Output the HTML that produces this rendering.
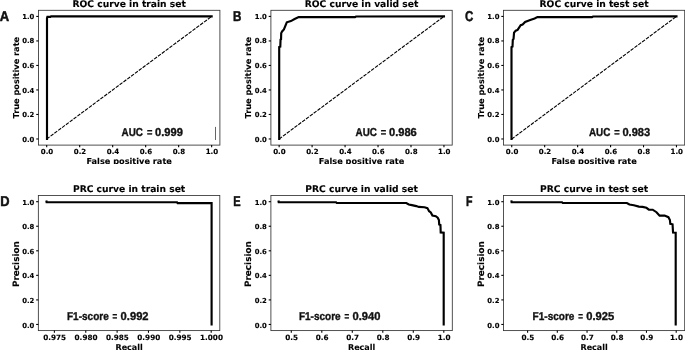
<!DOCTYPE html>
<html lang="en"><head><meta charset="utf-8"><title>ROC and PRC curves</title>
<style>html,body{margin:0;padding:0;background:#fff}body{width:685px;height:350px;overflow:hidden}svg{display:block;text-rendering:geometricPrecision}.t{font-family:'DejaVu Sans','Liberation Sans',sans-serif;font-weight:bold;fill:#000}.k{font-size:7.25px;stroke:#000;stroke-width:0.12}.l{font-size:8.2px;stroke:#000;stroke-width:0.1}.h{font-size:9.17px;stroke:#000;stroke-width:0.1}.c{font-family:'Liberation Sans','DejaVu Sans',sans-serif;font-weight:bold;fill:#111;stroke:#111;stroke-width:0.35}.sp{fill:none;stroke:#333;stroke-width:0.85}.tk{stroke:#000;stroke-width:1.1}.cv{fill:none;stroke:#000;stroke-width:2.15;stroke-linejoin:miter;stroke-linecap:square}.dg{stroke:#000;stroke-width:1.1;stroke-dasharray:3.6 1.18;fill:none}</style></head><body>
<svg width="685" height="350" viewBox="0 0 685 350">
<rect width="685" height="350" fill="#fff"/>
<g>
<rect class="sp" x="38.45" y="10.30" width="181.45" height="134.80"/>
<line class="tk" x1="46.70" y1="145.10" x2="46.70" y2="147.30"/>
<text class="t k" style="font-size:7.05px" text-anchor="middle" x="47.00" y="154.40">0.0</text>
<line class="tk" x1="79.69" y1="145.10" x2="79.69" y2="147.30"/>
<text class="t k" style="font-size:7.05px" text-anchor="middle" x="79.99" y="154.40">0.2</text>
<line class="tk" x1="112.68" y1="145.10" x2="112.68" y2="147.30"/>
<text class="t k" style="font-size:7.05px" text-anchor="middle" x="112.98" y="154.40">0.4</text>
<line class="tk" x1="145.67" y1="145.10" x2="145.67" y2="147.30"/>
<text class="t k" style="font-size:7.05px" text-anchor="middle" x="145.97" y="154.40">0.6</text>
<line class="tk" x1="178.66" y1="145.10" x2="178.66" y2="147.30"/>
<text class="t k" style="font-size:7.05px" text-anchor="middle" x="178.96" y="154.40">0.8</text>
<line class="tk" x1="211.65" y1="145.10" x2="211.65" y2="147.30"/>
<text class="t k" style="font-size:7.05px" text-anchor="middle" x="211.95" y="154.40">1.0</text>
<line class="tk" x1="36.25" y1="138.97" x2="38.45" y2="138.97"/>
<text class="t k" style="font-size:6.85px" text-anchor="end" x="34.35" y="141.52">0.0</text>
<line class="tk" x1="36.25" y1="114.46" x2="38.45" y2="114.46"/>
<text class="t k" style="font-size:6.85px" text-anchor="end" x="34.35" y="117.01">0.2</text>
<line class="tk" x1="36.25" y1="89.95" x2="38.45" y2="89.95"/>
<text class="t k" style="font-size:6.85px" text-anchor="end" x="34.35" y="92.50">0.4</text>
<line class="tk" x1="36.25" y1="65.45" x2="38.45" y2="65.45"/>
<text class="t k" style="font-size:6.85px" text-anchor="end" x="34.35" y="68.00">0.6</text>
<line class="tk" x1="36.25" y1="40.94" x2="38.45" y2="40.94"/>
<text class="t k" style="font-size:6.85px" text-anchor="end" x="34.35" y="43.49">0.8</text>
<line class="tk" x1="36.25" y1="16.43" x2="38.45" y2="16.43"/>
<text class="t k" style="font-size:6.85px" text-anchor="end" x="34.35" y="18.98">1.0</text>
<path class="dg" d="M46.70 138.97 L211.65 16.43"/>
<path class="cv" d="M47.00 138.97 L47.00 18.27 L47.40 16.86 L50.40 16.86 L51.00 16.43 L211.65 16.43"/>
<text class="t h" text-anchor="middle" x="129.18" y="6.85">ROC curve in train set</text>
<text class="t l" style="font-size:8.20px" text-anchor="middle" x="129.18" y="164.30">False positive rate</text>
<text class="t l" style="font-size:8.20px" text-anchor="middle" transform="translate(18.60 77.70) rotate(-90)">True positive rate</text>
<text class="c" font-size="11.4" y="135.70"><tspan x="121.60" textLength="21.40" lengthAdjust="spacingAndGlyphs">AUC</tspan> <tspan x="146.90" textLength="5.40" lengthAdjust="spacingAndGlyphs">=</tspan> <tspan x="155.10" textLength="27.80" lengthAdjust="spacingAndGlyphs">0.999</tspan></text>
<text class="c" style="stroke-width:0.5" font-size="14.3" x="-0.30" y="20.70" textLength="9.40" lengthAdjust="spacingAndGlyphs">A</text>
</g>
<line x1="215.5" y1="126.9" x2="215.5" y2="140" stroke="#222" stroke-width="0.7"/>
<g>
<rect class="sp" x="270.90" y="10.30" width="181.30" height="134.80"/>
<line class="tk" x1="279.14" y1="145.10" x2="279.14" y2="147.30"/>
<text class="t k" style="font-size:7.05px" text-anchor="middle" x="279.44" y="154.40">0.0</text>
<line class="tk" x1="312.10" y1="145.10" x2="312.10" y2="147.30"/>
<text class="t k" style="font-size:7.05px" text-anchor="middle" x="312.40" y="154.40">0.2</text>
<line class="tk" x1="345.07" y1="145.10" x2="345.07" y2="147.30"/>
<text class="t k" style="font-size:7.05px" text-anchor="middle" x="345.37" y="154.40">0.4</text>
<line class="tk" x1="378.03" y1="145.10" x2="378.03" y2="147.30"/>
<text class="t k" style="font-size:7.05px" text-anchor="middle" x="378.33" y="154.40">0.6</text>
<line class="tk" x1="411.00" y1="145.10" x2="411.00" y2="147.30"/>
<text class="t k" style="font-size:7.05px" text-anchor="middle" x="411.30" y="154.40">0.8</text>
<line class="tk" x1="443.96" y1="145.10" x2="443.96" y2="147.30"/>
<text class="t k" style="font-size:7.05px" text-anchor="middle" x="444.26" y="154.40">1.0</text>
<line class="tk" x1="268.70" y1="138.97" x2="270.90" y2="138.97"/>
<text class="t k" style="font-size:6.85px" text-anchor="end" x="266.80" y="141.52">0.0</text>
<line class="tk" x1="268.70" y1="114.46" x2="270.90" y2="114.46"/>
<text class="t k" style="font-size:6.85px" text-anchor="end" x="266.80" y="117.01">0.2</text>
<line class="tk" x1="268.70" y1="89.95" x2="270.90" y2="89.95"/>
<text class="t k" style="font-size:6.85px" text-anchor="end" x="266.80" y="92.50">0.4</text>
<line class="tk" x1="268.70" y1="65.45" x2="270.90" y2="65.45"/>
<text class="t k" style="font-size:6.85px" text-anchor="end" x="266.80" y="68.00">0.6</text>
<line class="tk" x1="268.70" y1="40.94" x2="270.90" y2="40.94"/>
<text class="t k" style="font-size:6.85px" text-anchor="end" x="266.80" y="43.49">0.8</text>
<line class="tk" x1="268.70" y1="16.43" x2="270.90" y2="16.43"/>
<text class="t k" style="font-size:6.85px" text-anchor="end" x="266.80" y="18.98">1.0</text>
<path class="dg" d="M279.14 138.97 L443.96 16.43"/>
<path class="cv" d="M279.20 138.97 L279.20 47.10 L280.30 46.70 L280.55 39.60 L281.05 39.20 L281.20 33.30 L282.10 31.40 L283.90 29.50 L286.80 22.30 L290.90 21.10 L294.60 19.05 L298.70 17.10 L355.00 17.10 L356.00 16.55 L443.96 16.43"/>
<text class="t h" text-anchor="middle" x="361.55" y="6.85">ROC curve in valid set</text>
<text class="t l" style="font-size:8.20px" text-anchor="middle" x="361.55" y="164.30">False positive rate</text>
<text class="t l" style="font-size:8.20px" text-anchor="middle" transform="translate(251.10 77.70) rotate(-90)">True positive rate</text>
<text class="c" font-size="11.4" y="135.70"><tspan x="355.50" textLength="21.40" lengthAdjust="spacingAndGlyphs">AUC</tspan> <tspan x="380.80" textLength="5.40" lengthAdjust="spacingAndGlyphs">=</tspan> <tspan x="389.00" textLength="27.80" lengthAdjust="spacingAndGlyphs">0.986</tspan></text>
<text class="c" style="stroke-width:0.5" font-size="14.3" x="232.90" y="20.70" textLength="8.40" lengthAdjust="spacingAndGlyphs">B</text>
</g>
<g>
<rect class="sp" x="503.50" y="10.30" width="181.20" height="134.80"/>
<line class="tk" x1="511.74" y1="145.10" x2="511.74" y2="147.30"/>
<text class="t k" style="font-size:7.05px" text-anchor="middle" x="512.04" y="154.40">0.0</text>
<line class="tk" x1="544.68" y1="145.10" x2="544.68" y2="147.30"/>
<text class="t k" style="font-size:7.05px" text-anchor="middle" x="544.98" y="154.40">0.2</text>
<line class="tk" x1="577.63" y1="145.10" x2="577.63" y2="147.30"/>
<text class="t k" style="font-size:7.05px" text-anchor="middle" x="577.93" y="154.40">0.4</text>
<line class="tk" x1="610.57" y1="145.10" x2="610.57" y2="147.30"/>
<text class="t k" style="font-size:7.05px" text-anchor="middle" x="610.87" y="154.40">0.6</text>
<line class="tk" x1="643.52" y1="145.10" x2="643.52" y2="147.30"/>
<text class="t k" style="font-size:7.05px" text-anchor="middle" x="643.82" y="154.40">0.8</text>
<line class="tk" x1="676.46" y1="145.10" x2="676.46" y2="147.30"/>
<text class="t k" style="font-size:7.05px" text-anchor="middle" x="676.76" y="154.40">1.0</text>
<line class="tk" x1="501.30" y1="138.97" x2="503.50" y2="138.97"/>
<text class="t k" style="font-size:6.85px" text-anchor="end" x="499.40" y="141.52">0.0</text>
<line class="tk" x1="501.30" y1="114.46" x2="503.50" y2="114.46"/>
<text class="t k" style="font-size:6.85px" text-anchor="end" x="499.40" y="117.01">0.2</text>
<line class="tk" x1="501.30" y1="89.95" x2="503.50" y2="89.95"/>
<text class="t k" style="font-size:6.85px" text-anchor="end" x="499.40" y="92.50">0.4</text>
<line class="tk" x1="501.30" y1="65.45" x2="503.50" y2="65.45"/>
<text class="t k" style="font-size:6.85px" text-anchor="end" x="499.40" y="68.00">0.6</text>
<line class="tk" x1="501.30" y1="40.94" x2="503.50" y2="40.94"/>
<text class="t k" style="font-size:6.85px" text-anchor="end" x="499.40" y="43.49">0.8</text>
<line class="tk" x1="501.30" y1="16.43" x2="503.50" y2="16.43"/>
<text class="t k" style="font-size:6.85px" text-anchor="end" x="499.40" y="18.98">1.0</text>
<path class="dg" d="M511.74 138.97 L676.46 16.43"/>
<path class="cv" d="M511.50 138.97 L511.50 47.10 L512.50 46.50 L512.80 39.90 L513.55 38.90 L514.05 32.60 L515.70 30.75 L517.60 29.90 L520.70 25.10 L522.60 24.50 L525.10 21.95 L530.20 20.06 L534.60 18.55 L537.45 17.10 L592.00 17.10 L593.00 16.55 L676.46 16.43"/>
<text class="t h" text-anchor="middle" x="594.10" y="6.85">ROC curve in test set</text>
<text class="t l" style="font-size:8.20px" text-anchor="middle" x="594.10" y="164.30">False positive rate</text>
<text class="t l" style="font-size:8.20px" text-anchor="middle" transform="translate(483.70 77.70) rotate(-90)">True positive rate</text>
<text class="c" font-size="11.4" y="135.70"><tspan x="588.90" textLength="21.40" lengthAdjust="spacingAndGlyphs">AUC</tspan> <tspan x="614.20" textLength="5.40" lengthAdjust="spacingAndGlyphs">=</tspan> <tspan x="622.40" textLength="27.80" lengthAdjust="spacingAndGlyphs">0.983</tspan></text>
<text class="c" style="stroke-width:0.5" font-size="14.3" x="465.10" y="21.00" textLength="8.30" lengthAdjust="spacingAndGlyphs">C</text>
</g>
<g>
<rect class="sp" x="38.35" y="195.55" width="181.45" height="135.05"/>
<line class="tk" x1="54.40" y1="330.60" x2="54.40" y2="332.80"/>
<text class="t k" style="font-size:7.25px" text-anchor="middle" x="54.70" y="339.70">0.975</text>
<line class="tk" x1="85.76" y1="330.60" x2="85.76" y2="332.80"/>
<text class="t k" style="font-size:7.25px" text-anchor="middle" x="86.06" y="339.70">0.980</text>
<line class="tk" x1="117.12" y1="330.60" x2="117.12" y2="332.80"/>
<text class="t k" style="font-size:7.25px" text-anchor="middle" x="117.42" y="339.70">0.985</text>
<line class="tk" x1="148.48" y1="330.60" x2="148.48" y2="332.80"/>
<text class="t k" style="font-size:7.25px" text-anchor="middle" x="148.78" y="339.70">0.990</text>
<line class="tk" x1="179.84" y1="330.60" x2="179.84" y2="332.80"/>
<text class="t k" style="font-size:7.25px" text-anchor="middle" x="180.14" y="339.70">0.995</text>
<line class="tk" x1="211.20" y1="330.60" x2="211.20" y2="332.80"/>
<text class="t k" style="font-size:7.25px" text-anchor="middle" x="211.50" y="339.70">1.000</text>
<line class="tk" x1="36.15" y1="324.46" x2="38.35" y2="324.46"/>
<text class="t k" style="font-size:6.85px" text-anchor="end" x="34.25" y="327.51">0.0</text>
<line class="tk" x1="36.15" y1="299.91" x2="38.35" y2="299.91"/>
<text class="t k" style="font-size:6.85px" text-anchor="end" x="34.25" y="302.96">0.2</text>
<line class="tk" x1="36.15" y1="275.35" x2="38.35" y2="275.35"/>
<text class="t k" style="font-size:6.85px" text-anchor="end" x="34.25" y="278.40">0.4</text>
<line class="tk" x1="36.15" y1="250.80" x2="38.35" y2="250.80"/>
<text class="t k" style="font-size:6.85px" text-anchor="end" x="34.25" y="253.85">0.6</text>
<line class="tk" x1="36.15" y1="226.24" x2="38.35" y2="226.24"/>
<text class="t k" style="font-size:6.85px" text-anchor="end" x="34.25" y="229.29">0.8</text>
<line class="tk" x1="36.15" y1="201.69" x2="38.35" y2="201.69"/>
<text class="t k" style="font-size:6.85px" text-anchor="end" x="34.25" y="204.74">1.0</text>
<path class="cv" d="M46.50 201.60 L46.60 202.20 L177.00 202.20 L177.60 203.10 L211.60 203.10 L211.60 324.46"/>
<text class="t h" text-anchor="middle" x="129.08" y="192.40">PRC curve in train set</text>
<text class="t l" style="font-size:8.00px" text-anchor="middle" x="129.08" y="349.70">Recall</text>
<text class="t l" style="font-size:8.85px" text-anchor="middle" transform="translate(18.60 264.08) rotate(-90)">Precision</text>
<text class="c" font-size="11.4" y="319.60"><tspan x="67.00" textLength="41.80" lengthAdjust="spacingAndGlyphs">F1-score</tspan> <tspan x="112.60" textLength="4.70" lengthAdjust="spacingAndGlyphs">=</tspan> <tspan x="120.60" textLength="28.00" lengthAdjust="spacingAndGlyphs">0.992</tspan></text>
<text class="c" style="stroke-width:0.5" font-size="14.3" x="0.15" y="205.70" textLength="9.30" lengthAdjust="spacingAndGlyphs">D</text>
</g>
<g>
<rect class="sp" x="270.90" y="195.55" width="181.40" height="135.05"/>
<line class="tk" x1="291.30" y1="330.60" x2="291.30" y2="332.80"/>
<text class="t k" style="font-size:7.25px" text-anchor="middle" x="291.60" y="339.70">0.5</text>
<line class="tk" x1="321.80" y1="330.60" x2="321.80" y2="332.80"/>
<text class="t k" style="font-size:7.25px" text-anchor="middle" x="322.10" y="339.70">0.6</text>
<line class="tk" x1="352.30" y1="330.60" x2="352.30" y2="332.80"/>
<text class="t k" style="font-size:7.25px" text-anchor="middle" x="352.60" y="339.70">0.7</text>
<line class="tk" x1="382.80" y1="330.60" x2="382.80" y2="332.80"/>
<text class="t k" style="font-size:7.25px" text-anchor="middle" x="383.10" y="339.70">0.8</text>
<line class="tk" x1="413.30" y1="330.60" x2="413.30" y2="332.80"/>
<text class="t k" style="font-size:7.25px" text-anchor="middle" x="413.60" y="339.70">0.9</text>
<line class="tk" x1="443.80" y1="330.60" x2="443.80" y2="332.80"/>
<text class="t k" style="font-size:7.25px" text-anchor="middle" x="444.10" y="339.70">1.0</text>
<line class="tk" x1="268.70" y1="324.46" x2="270.90" y2="324.46"/>
<text class="t k" style="font-size:6.85px" text-anchor="end" x="266.80" y="327.51">0.0</text>
<line class="tk" x1="268.70" y1="299.91" x2="270.90" y2="299.91"/>
<text class="t k" style="font-size:6.85px" text-anchor="end" x="266.80" y="302.96">0.2</text>
<line class="tk" x1="268.70" y1="275.35" x2="270.90" y2="275.35"/>
<text class="t k" style="font-size:6.85px" text-anchor="end" x="266.80" y="278.40">0.4</text>
<line class="tk" x1="268.70" y1="250.80" x2="270.90" y2="250.80"/>
<text class="t k" style="font-size:6.85px" text-anchor="end" x="266.80" y="253.85">0.6</text>
<line class="tk" x1="268.70" y1="226.24" x2="270.90" y2="226.24"/>
<text class="t k" style="font-size:6.85px" text-anchor="end" x="266.80" y="229.29">0.8</text>
<line class="tk" x1="268.70" y1="201.69" x2="270.90" y2="201.69"/>
<text class="t k" style="font-size:6.85px" text-anchor="end" x="266.80" y="204.74">1.0</text>
<path class="cv" d="M278.60 201.60 L278.70 202.20 L336.00 202.20 L336.80 203.00 L406.30 203.00 L408.80 204.50 L411.90 205.10 L416.30 206.10 L418.80 206.90 L424.50 207.30 L427.40 208.10 L429.10 211.20 L430.80 212.40 L432.40 215.60 L435.80 216.20 L437.70 217.70 L438.90 220.00 L439.20 224.60 L440.45 225.10 L440.70 232.40 L443.70 232.70 L443.70 324.46"/>
<text class="t h" text-anchor="middle" x="361.60" y="192.40">PRC curve in valid set</text>
<text class="t l" style="font-size:8.00px" text-anchor="middle" x="361.60" y="349.70">Recall</text>
<text class="t l" style="font-size:8.85px" text-anchor="middle" transform="translate(251.10 264.08) rotate(-90)">Precision</text>
<text class="c" font-size="11.4" y="319.60"><tspan x="298.90" textLength="41.80" lengthAdjust="spacingAndGlyphs">F1-score</tspan> <tspan x="344.50" textLength="4.70" lengthAdjust="spacingAndGlyphs">=</tspan> <tspan x="352.50" textLength="28.00" lengthAdjust="spacingAndGlyphs">0.940</tspan></text>
<text class="c" style="stroke-width:0.5" font-size="14.3" x="233.20" y="205.70" textLength="7.40" lengthAdjust="spacingAndGlyphs">E</text>
</g>
<g>
<rect class="sp" x="503.50" y="195.55" width="181.20" height="135.05"/>
<line class="tk" x1="527.60" y1="330.60" x2="527.60" y2="332.80"/>
<text class="t k" style="font-size:7.25px" text-anchor="middle" x="527.90" y="339.70">0.5</text>
<line class="tk" x1="557.32" y1="330.60" x2="557.32" y2="332.80"/>
<text class="t k" style="font-size:7.25px" text-anchor="middle" x="557.62" y="339.70">0.6</text>
<line class="tk" x1="587.04" y1="330.60" x2="587.04" y2="332.80"/>
<text class="t k" style="font-size:7.25px" text-anchor="middle" x="587.34" y="339.70">0.7</text>
<line class="tk" x1="616.76" y1="330.60" x2="616.76" y2="332.80"/>
<text class="t k" style="font-size:7.25px" text-anchor="middle" x="617.06" y="339.70">0.8</text>
<line class="tk" x1="646.48" y1="330.60" x2="646.48" y2="332.80"/>
<text class="t k" style="font-size:7.25px" text-anchor="middle" x="646.78" y="339.70">0.9</text>
<line class="tk" x1="676.20" y1="330.60" x2="676.20" y2="332.80"/>
<text class="t k" style="font-size:7.25px" text-anchor="middle" x="676.50" y="339.70">1.0</text>
<line class="tk" x1="501.30" y1="324.46" x2="503.50" y2="324.46"/>
<text class="t k" style="font-size:6.85px" text-anchor="end" x="499.40" y="327.51">0.0</text>
<line class="tk" x1="501.30" y1="299.91" x2="503.50" y2="299.91"/>
<text class="t k" style="font-size:6.85px" text-anchor="end" x="499.40" y="302.96">0.2</text>
<line class="tk" x1="501.30" y1="275.35" x2="503.50" y2="275.35"/>
<text class="t k" style="font-size:6.85px" text-anchor="end" x="499.40" y="278.40">0.4</text>
<line class="tk" x1="501.30" y1="250.80" x2="503.50" y2="250.80"/>
<text class="t k" style="font-size:6.85px" text-anchor="end" x="499.40" y="253.85">0.6</text>
<line class="tk" x1="501.30" y1="226.24" x2="503.50" y2="226.24"/>
<text class="t k" style="font-size:6.85px" text-anchor="end" x="499.40" y="229.29">0.8</text>
<line class="tk" x1="501.30" y1="201.69" x2="503.50" y2="201.69"/>
<text class="t k" style="font-size:6.85px" text-anchor="end" x="499.40" y="204.74">1.0</text>
<path class="cv" d="M511.50 201.50 L511.60 202.20 L562.00 202.20 L562.80 203.00 L626.90 203.00 L629.40 204.50 L633.80 205.30 L638.90 206.60 L642.60 206.90 L646.40 207.80 L648.90 209.70 L652.70 209.70 L656.50 212.20 L659.60 215.60 L664.60 215.60 L668.40 217.20 L669.90 220.00 L670.30 223.90 L672.55 224.30 L673.05 232.45 L675.70 232.70 L675.70 324.46"/>
<text class="t h" text-anchor="middle" x="594.10" y="192.40">PRC curve in test set</text>
<text class="t l" style="font-size:8.00px" text-anchor="middle" x="594.10" y="349.70">Recall</text>
<text class="t l" style="font-size:8.85px" text-anchor="middle" transform="translate(483.70 264.08) rotate(-90)">Precision</text>
<text class="c" font-size="11.4" y="319.60"><tspan x="532.60" textLength="41.80" lengthAdjust="spacingAndGlyphs">F1-score</tspan> <tspan x="578.20" textLength="4.70" lengthAdjust="spacingAndGlyphs">=</tspan> <tspan x="586.20" textLength="28.00" lengthAdjust="spacingAndGlyphs">0.925</tspan></text>
<text class="c" style="stroke-width:0.5" font-size="14.3" x="466.10" y="205.70" textLength="6.50" lengthAdjust="spacingAndGlyphs">F</text>
</g>
<rect x="0" y="164.0" width="685" height="11" fill="#fff"/>
</svg></body></html>
